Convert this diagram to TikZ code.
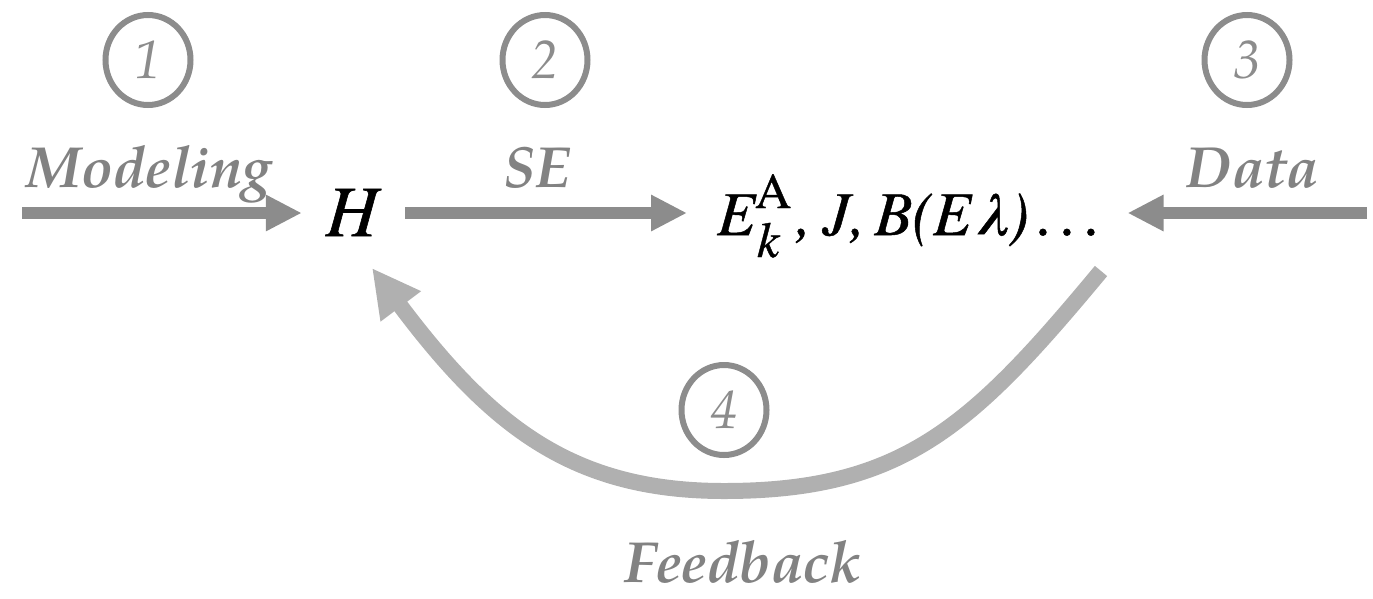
\documentclass[tikz,border=0pt]{standalone}
\usepackage{fontspec}
\newfontface\tmit{texgyretermes-italic.otf}[FakeBold=0.8]
\newfontface\tmup{texgyretermes-regular.otf}[FakeBold=0.8]
\newfontface\lblit{texgyrepagella-bolditalic.otf}
\newfontface\numit{texgyrepagella-italic.otf}
\usetikzlibrary{arrows.meta,shapes.geometric}
\definecolor{arrowgray}{HTML}{8C8C8C}
\definecolor{loopgray}{HTML}{B0B0B0}
\definecolor{labelgray}{HTML}{828282}
\newcommand{\lblfont}{\lblit\fontsize{58}{60}\selectfont}
\newcommand{\mfont}{\tmit\fontsize{62}{66}\selectfont}
\newcommand{\sfnt}{\fontsize{50}{52}\selectfont}

\begin{document}
\begin{tikzpicture}[x=1pt, y=-1pt,
	stepnum/.style={draw=arrowgray, line width=6pt, ellipse, inner sep=0pt, minimum width=85pt, minimum height=90pt, text=arrowgray, font=\numit\fontsize{54}{56}\selectfont},
	lbl/.style={anchor=base, inner sep=0pt, text=labelgray, font=\lblfont},
	flow/.style={draw=arrowgray, line width=12pt, -{Triangle[length=36pt, width=34pt]}},
	loopback/.style={draw=loopgray, line width=16pt, -{Triangle[length=48pt, width=47pt]}}]
	\useasboundingbox (0,0) rectangle (1373,598);
	\node[stepnum] (n1) at (148,60) {1};
	\node[stepnum] (n2) at (545,60) {2};
	\node[stepnum] (n3) at (1247,60) {3};
	\node[stepnum] (n4) at (724,410) {4};
	\node[lbl] (modeling) at (149,187) {Modeling};
	\node[lbl] (se) at (537,187) {SE};
	\node[lbl] (data) at (1253,187) {Data};
	\node[lbl] (feedback) at (743,582) {Feedback};
	\node[anchor=base, inner sep=0pt] (H) at (352,236) {\tmit\fontsize{72}{76}\selectfont H};
	\node[anchor=base west, inner sep=0pt] (obs) at (717,235) {\mfont E\makebox[38pt][l]{\rlap{\raisebox{27pt}{\tmup\sfnt A}}\raisebox{-22pt}{\hspace{2pt}\sfnt k}}\kern3pt,\kern11pt J,\kern9pt B(E\kern4pt λ)\kern9pt.\kern8.5pt.\kern8.5pt.};
	\coordinate (mstart) at (22,213);
	\coordinate (dstart) at (1367,213);
	\coordinate (fbstart) at (1101,271);
	\draw[flow, shorten >=24pt] (mstart) -- (H.west |- mstart);
	\draw[flow, shorten <=27pt, shorten >=30pt] (H.east |- mstart) -- (obs.west |- mstart);
	\draw[flow] (dstart) -- ([xshift=26pt]obs.east |- dstart);
	\draw[loopback] (fbstart) .. controls (973,425) and (904,491) .. (724,491) .. controls (574,491) and (492,428) .. ([shift={(20,32)}]H.base);
\end{tikzpicture}
\end{document}
